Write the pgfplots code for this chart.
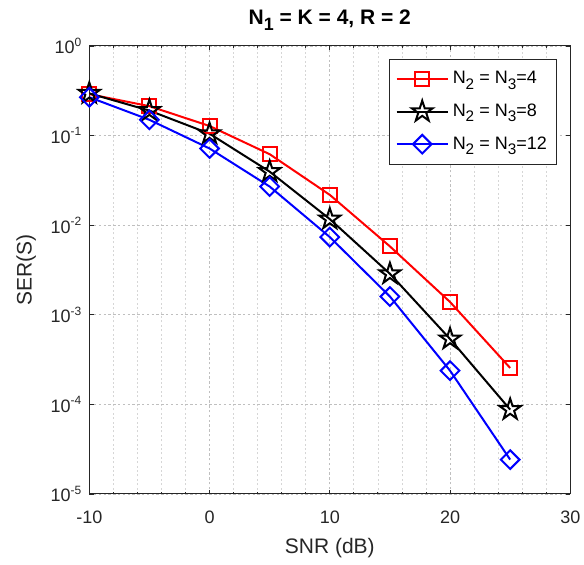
\documentclass[border=0pt]{standalone}
\usepackage{fontspec}
\setmainfont{Liberation Sans}
\usepackage{graphicx}
\usepackage{pgfplots}
\pgfplotsset{compat=1.18}
\definecolor{axgray}{RGB}{38,38,38}
\definecolor{mred}{RGB}{255,0,0}
\definecolor{mblue}{RGB}{0,0,255}
\newcommand{\sbs}[1]{\raisebox{-0.3em}{\scalebox{0.85}{#1}}}
\pgfdeclareplotmark{pentagram}{%
  \pgfpathmoveto{\pgfqpointpolar{90}{\pgfplotmarksize}}%
  \pgfpathlineto{\pgfqpointpolar{126}{0.382\pgfplotmarksize}}%
  \pgfpathlineto{\pgfqpointpolar{162}{\pgfplotmarksize}}%
  \pgfpathlineto{\pgfqpointpolar{198}{0.382\pgfplotmarksize}}%
  \pgfpathlineto{\pgfqpointpolar{234}{\pgfplotmarksize}}%
  \pgfpathlineto{\pgfqpointpolar{270}{0.382\pgfplotmarksize}}%
  \pgfpathlineto{\pgfqpointpolar{306}{\pgfplotmarksize}}%
  \pgfpathlineto{\pgfqpointpolar{342}{0.382\pgfplotmarksize}}%
  \pgfpathlineto{\pgfqpointpolar{18}{\pgfplotmarksize}}%
  \pgfpathlineto{\pgfqpointpolar{54}{0.382\pgfplotmarksize}}%
  \pgfpathclose
  \pgfusepathqstroke
}
\begin{document}
\begin{tikzpicture}
\begin{axis}[
  scale only axis, width=240.5pt, height=224pt,
  xmin=-10, xmax=30, ymin=1e-5, ymax=1,
  ymode=log, log basis y=10,
  xtick={-10,0,10,20,30}, minor x tick num=4,
  ytick={1e-5,1e-4,1e-3,1e-2,1e-1,1},
  yticklabels={10\textsuperscript{-5},10\textsuperscript{-4},10\textsuperscript{-3},10\textsuperscript{-2},10\textsuperscript{-1},10\textsuperscript{0}},
  /pgf/number format/assume math mode=true,
  tick align=inside, major tick length=2.2pt, minor tick length=0.8pt,
  grid=both,
  major grid style={dash pattern=on 1.2pt off 1.2pt, black!25, line width=0.4pt},
  minor grid style={dash pattern=on 1pt off 1.2pt, black!16, line width=0.35pt},
  axis line style={axgray, line width=0.5pt},
  every tick/.style={axgray, line width=0.4pt},
  tick label style={font=\fontsize{9}{10}\selectfont, text=axgray},
  xticklabel style={yshift=-5pt},
  xlabel={SNR (dB)}, ylabel={SER(S)},
  label style={font=\fontsize{10.5}{12}\selectfont, text=axgray},
  xlabel style={at={(axis description cs:0.5,-0.1205)}, anchor=center},
  ylabel style={at={(axis description cs:-0.131,0.5)}, anchor=center},
  extra description/.code={
    \node[anchor=base, font=\fontsize{10.5}{12}\selectfont\bfseries, text=black, inner sep=0pt]
      at (0.5,1.048) {N\sbs{1} = K = 4, R = 2};
  },
  legend style={at={(axis description cs:0.973,0.971)}, anchor=north east,
    draw=axgray, line width=0.5pt, font=\fontsize{9}{11}\selectfont,
    cells={anchor=west}, row sep=4.5pt, inner sep=3pt, inner ysep=4pt},
  legend image code/.code={\draw[mark repeat=2,mark phase=2,#1] plot coordinates {(0pt,0pt) (12.75pt,0pt) (25.5pt,0pt)};},
]
\addplot[mred, line width=1pt, mark=square, mark size=3.5pt, mark options={solid}] coordinates {
  (-10,0.29) (-5,0.213) (0,0.128) (5,0.062) (10,0.0218) (15,0.0058) (20,0.00139) (25,2.55e-4)};
\addlegendentry{N\sbs{2} = N\sbs{3}=4}
\addplot[black, line width=1pt, mark=pentagram, mark size=5.5pt, mark options={solid, line join=miter}] coordinates {
  (-10,0.296) (-5,0.19) (0,0.105) (5,0.0396) (10,0.0117) (15,0.00287) (20,5.37e-4) (25,8.75e-5)};
\addlegendentry{N\sbs{2} = N\sbs{3}=8}
\addplot[mblue, line width=1pt, mark=square, mark size=3.3pt, mark options={solid, rotate=45}] coordinates {
  (-10,0.268) (-5,0.15) (0,0.0718) (5,0.027) (10,0.00737) (15,0.0016) (20,2.38e-4) (25,2.42e-5)};
\addlegendentry{N\sbs{2} = N\sbs{3}=12}
\end{axis}
\pgfresetboundingbox
\path (current axis.south west) ++(-44.65pt,-35.5pt) rectangle ++(292pt,282.5pt);
\end{tikzpicture}
\end{document}
